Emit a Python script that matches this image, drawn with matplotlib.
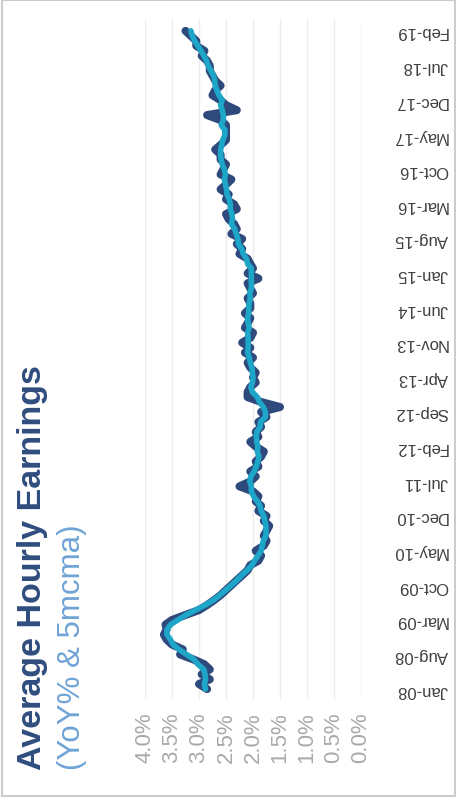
import numpy as np
import pandas as pd
import matplotlib
matplotlib.use('Agg')
import matplotlib.pyplot as plt
import matplotlib.dates as mdates
from matplotlib.patches import Rectangle

plt.rcParams['font.family'] = ['Liberation Sans', 'DejaVu Sans']

# average hourly earnings, yoy %, monthly from Jan-08
yoy = [
    2.85, 3.0, 2.8, 2.95, 2.8, 2.9, 3.1, 3.35, 3.3, 3.5, 3.6, 3.65,     # 2008
    3.6, 3.62, 3.5, 3.25, 3.0, 2.85, 2.72, 2.6, 2.5, 2.4, 2.3, 2.2,     # 2009
    2.1, 2.05, 1.9, 1.85, 1.95, 1.8, 1.75, 1.8, 1.75, 1.7, 1.8, 1.75,   # 2010
    1.9, 1.85, 1.95, 1.9, 2.0, 2.25, 2.05, 1.95, 2.05, 1.9, 1.95, 1.85, # 2011
    1.8, 1.95, 2.05, 1.9, 1.95, 1.85, 1.9, 1.75, 1.85, 1.5, 1.85, 2.1,  # 2012
    2.1, 2.05, 1.95, 2.0, 1.95, 2.05, 2.1, 2.0, 2.15, 2.05, 2.2, 2.05,  # 2013
    2.0, 2.15, 2.1, 2.05, 2.15, 2.05, 2.05, 2.1, 2.0, 2.05, 2.1, 1.9,   # 2014
    2.1, 2.0, 2.05, 2.1, 2.25, 2.2, 2.3, 2.2, 2.4, 2.3, 2.35, 2.45,     # 2015
    2.5, 2.3, 2.35, 2.5, 2.45, 2.6, 2.5, 2.4, 2.6, 2.55, 2.5, 2.6,      # 2016
    2.6, 2.7, 2.6, 2.5, 2.5, 2.5, 2.5, 2.6, 2.85, 2.3, 2.5, 2.6,        # 2017
    2.75, 2.7, 2.6, 2.7, 2.75, 2.8, 2.8, 2.85, 2.95, 2.9, 3.05, 3.05,   # 2018
    3.15, 3.25,                                                         # 2019
]
tick_labels = ['Jan-08', 'Aug-08', 'Mar-09', 'Oct-09', 'May-10', 'Dec-10',
               'Jul-11', 'Feb-12', 'Sep-12', 'Apr-13', 'Nov-13', 'Jun-14',
               'Jan-15', 'Aug-15', 'Mar-16', 'Oct-16', 'May-17', 'Dec-17',
               'Jul-18', 'Feb-19']
value_ticks = [4.0, 3.5, 3.0, 2.5, 2.0, 1.5, 1.0, 0.5, 0.0]

months = pd.date_range('2008-01-01', periods=len(yoy), freq='MS')
ahe = pd.Series(yoy, index=months)
mcma = ahe.rolling(5, center=True, min_periods=1).mean()
mnum = mdates.date2num(months.to_pydatetime())

W, H = 458, 803
fig = plt.figure(figsize=(W / 100, H / 100), dpi=100)
fig.patch.set_facecolor('white')

# chart is laid out sideways: value runs right-to-left, time runs upward
ax = fig.add_axes([145 / W, 103 / H, 216 / W, 680 / H])
ax.plot(ahe.values, mnum, color='#2e4a7c', lw=5.8,
        solid_capstyle='round', solid_joinstyle='round', zorder=3)
ax.plot(mcma.values, mnum, color='#1ea6c9', lw=4.0,
        solid_capstyle='round', solid_joinstyle='round', zorder=4)

ax.set_xlim(4.0, 0.0)
ax.set_ylim(mnum[0] - 61, mnum[-1] + 73)

ax.set_xticks(value_ticks)
ax.set_xticklabels([f'{v:.1f}%' for v in value_ticks], rotation=90,
                   color='#a9a9a9', fontsize=16)
ax.tick_params(axis='x', length=0, pad=9)

ax.yaxis.tick_right()
ax.set_yticks(mnum[::7])
ax.set_yticklabels(tick_labels, rotation=180, ha='right', va='center',
                   color='#404040', fontsize=12)
ax.tick_params(axis='y', length=0, pad=62.6)

ax.grid(axis='x', color='#ececec', lw=1)
ax.set_axisbelow(True)
for s in ax.spines.values():
    s.set_visible(False)

fig.text(33 / W, 1 - 770 / H, 'Average Hourly Earnings', rotation=90,
         ha='center', va='bottom', fontsize=24.5, fontweight='bold',
         color='#2f4d7d')
fig.text(72 / W, 1 - 770 / H, '(YoY% & 5mcma)', rotation=90,
         ha='center', va='bottom', fontsize=22.5, color='#6fa3d6')

fig.add_artist(Rectangle((2 / W, 6 / H), 453 / W, 796 / H, transform=fig.transFigure,
                         fill=False, edgecolor='#cccccc', lw=1.5))

fig.savefig('out.png', dpi=100)
